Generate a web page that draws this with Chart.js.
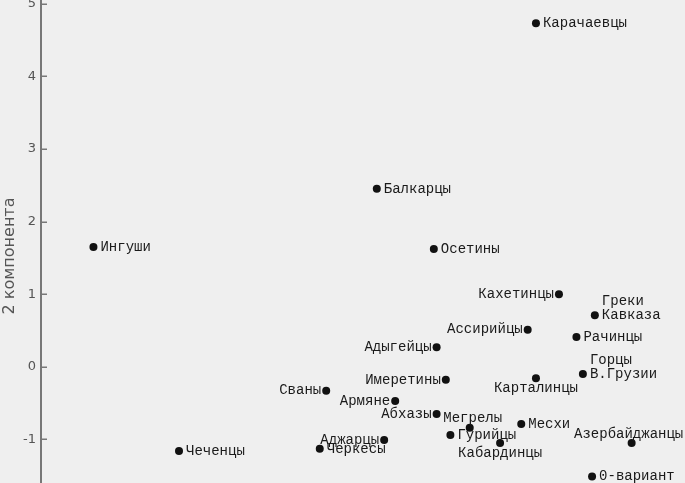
<!DOCTYPE html>
<html>
<head>
<meta charset="utf-8">
<script src="https://cdn.jsdelivr.net/npm/chart.js@4"></script>
<style>
html,body{margin:0;padding:0;overflow:hidden;background:#efefef;width:685px;height:483px}
canvas{display:block}
</style>
</head>
<body>
<canvas id="c" width="685" height="512"></canvas>
<script>
// ---- data ----
const groups = [
  "Карачаевцы","Балкарцы","Ингуши","Осетины","Кахетинцы","Греки Кавказа",
  "Ассирийцы","Рачинцы","Адыгейцы","Горцы В.Грузии","Карталинцы","Имеретины",
  "Сваны","Армяне","Абхазы","Мегрелы","Гурийцы","Месхи","Кабардинцы",
  "Аджарцы","Черкесы","Чеченцы","Азербайджанцы","0-вариант"
];
const component1 = [
  1.88, 0.15, -2.93, 0.77, 2.13, 2.52,
  1.79, 2.32, 0.80, 2.39, 1.88, 0.90,
  -0.40, 0.35, 0.80, 1.16, 0.95, 1.72, 1.49,
  0.23, -0.47, -2.00, 2.92, 2.49
];
const component2 = [
  4.73, 2.45, 1.65, 1.62, 1.00, 0.71,
  0.51, 0.41, 0.27, -0.10, -0.16, -0.18,
  -0.33, -0.47, -0.65, -0.84, -0.94, -0.79, -1.05,
  -1.01, -1.13, -1.16, -1.05, -1.51
];
const yTickValues = [-1, 0, 1, 2, 3, 4, 5];
const yTitle = "2 компонента";

// ---- label placement (style) ----
const labelPlacement = {
  "Карачаевцы":"right","Балкарцы":"right","Ингуши":"right","Осетины":"right",
  "Кахетинцы":"left","Греки Кавказа":"rightStack","Ассирийцы":"left","Рачинцы":"right",
  "Адыгейцы":"left","Горцы В.Грузии":"rightStack","Карталинцы":"below","Имеретины":"left",
  "Сваны":"left","Армяне":"left","Абхазы":"left","Мегрелы":"above","Гурийцы":"right",
  "Месхи":"right","Кабардинцы":"below","Аджарцы":"left","Черкесы":"right",
  "Чеченцы":"right","Азербайджанцы":"above","0-вариант":"right"
};
const aboveShift = { "Мегрелы": 3, "Азербайджанцы": -3 };

const pointLabels = {
  id: 'pointLabels',
  afterDatasetsDraw(chart) {
    const ctx = chart.ctx;
    const meta = chart.getDatasetMeta(0);
    ctx.save();
    ctx.font = '14px "Liberation Mono", monospace';
    ctx.fillStyle = '#1a1a1a';
    ctx.textBaseline = 'middle';
    meta.data.forEach((pt, i) => {
      const name = groups[i];
      const p = labelPlacement[name] || 'right';
      const x = pt.x, y = pt.y;
      if (p === 'right') {
        ctx.textAlign = 'left'; ctx.fillText(name, x + 7, y);
      } else if (p === 'left') {
        ctx.textAlign = 'right'; ctx.fillText(name, x - 5, y);
      } else if (p === 'below') {
        ctx.textAlign = 'center'; ctx.fillText(name, x, y + 10);
      } else if (p === 'above') {
        ctx.textAlign = 'center'; ctx.fillText(name, x + (aboveShift[name] || 0), y - 9);
      } else if (p === 'rightStack') {
        const lines = name.split(' ');
        ctx.textAlign = 'left';
        lines.forEach((ln, k) => {
          ctx.fillText(ln, x + 7, y - (lines.length - 1 - k) * 14);
        });
      }
    });
    ctx.restore();
  }
};

const innerTicks = {
  id: 'innerTicks',
  afterDraw(chart) {
    const s = chart.scales.y;
    const ctx = chart.ctx;
    const left = chart.chartArea.left;
    ctx.save();
    ctx.strokeStyle = '#777';
    ctx.lineWidth = 1.5;
    s.ticks.forEach(t => {
      const py = Math.round(s.getPixelForValue(t.value)) + 0.25;
      ctx.beginPath();
      ctx.moveTo(left, py);
      ctx.lineTo(left + 6, py);
      ctx.stroke();
    });
    ctx.restore();
  }
};

new Chart(document.getElementById('c'), {
  type: 'scatter',
  data: {
    datasets: [{
      data: component1.map((x, i) => ({ x: x, y: component2[i] })),
      pointRadius: 4,
      pointHoverRadius: 4,
      pointBackgroundColor: '#111',
      pointBorderWidth: 0,
      pointBorderColor: '#111'
    }]
  },
  options: {
    responsive: false,
    animation: false,
    events: [],
    layout: { padding: 0, autoPadding: false },
    plugins: { legend: { display: false }, tooltip: { enabled: false } },
    scales: {
      x: { type: 'linear', display: false, min: -3.5, max: 3.5 },
      y: {
        type: 'linear',
        min: -2,
        max: 5.05,
        afterBuildTicks: s => { s.ticks = yTickValues.map(v => ({ value: v })); },
        afterFit: s => { s.width = 41; s.paddingTop = 0; s.paddingBottom = 0; },
        border: { display: true, color: '#777', width: 2 },
        grid: { display: true, drawOnChartArea: false, drawTicks: false },
        ticks: {
          color: '#555',
          padding: 5,
          font: { family: 'DejaVu Sans', size: 13 }
        },
        title: {
          display: true,
          text: yTitle,
          color: '#555',
          padding: 0,
          font: { family: 'DejaVu Sans', size: 16 }
        }
      }
    }
  },
  plugins: [pointLabels, innerTicks]
});
</script>
</body>
</html>
